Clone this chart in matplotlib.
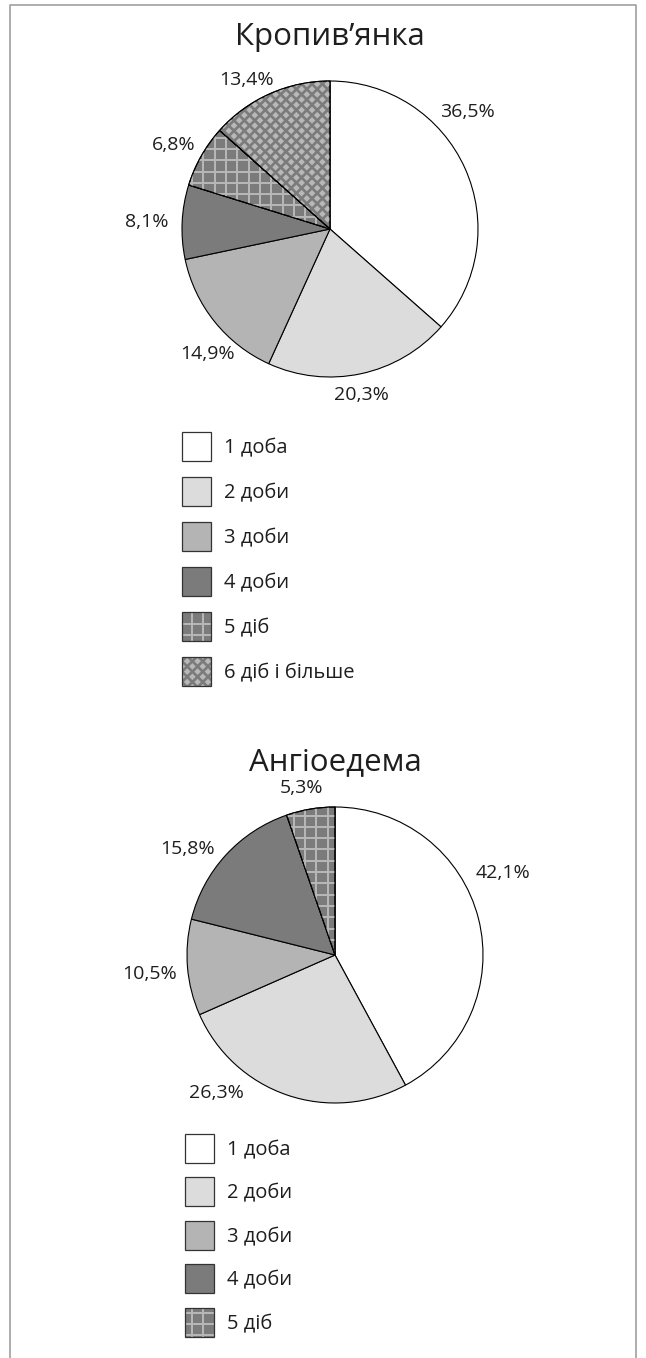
import numpy as np
import matplotlib
matplotlib.use('Agg')
import matplotlib.pyplot as plt
from matplotlib.patches import Rectangle, Wedge
from matplotlib.collections import LineCollection, PolyCollection

plt.rcParams['font.family'] = ['Open Sans', 'DejaVu Sans']

# дані
categories = ['1 доба', '2 доби', '3 доби', '4 доби', '5 діб', '6 діб і більше']
urticaria = [36.5, 20.3, 14.9, 8.1, 6.8, 13.4]
angioedema = [42.1, 26.3, 10.5, 15.8, 5.3]
titles = ['Кропив’янка', 'Ангіоедема']

# оформлення
fills = ['white', '#dcdcdc', '#b4b4b4', '#7b7b7b', '#7b7b7b', '#7b7b7b']
patterns = [None, None, None, None, 'grid', 'diamond']
light = '#b8b8b8'
txt = '#1e1e1e'

W, H = 646, 1358
R = 148

# позиції підписів (центр тексту, в одиницях радіуса від центру діаграми)
lbl_pos1 = [(0.926, 0.804), (0.214, -1.105), (-0.828, -0.834),
            (-1.236, 0.064), (-1.054, 0.584), (-0.561, 1.018)]
lbl_pos2 = [(1.133, 0.568), (-0.801, -0.916), (-1.254, -0.115),
            (-1.0, 0.730), (-0.226, 1.142)]


def py(y):
    return H - y


def add_pattern(ax, clip, kind, x0, x1, y0, y1):
    if kind == 'grid':
        s = 11.3
        segs = []
        for x in np.arange(np.floor(x0 / s) * s, x1 + s, s):
            segs.append([(x, y0), (x, y1)])
        for y in np.arange(np.floor(y0 / s) * s, y1 + s, s):
            segs.append([(x0, y), (x1, y)])
        lc = LineCollection(segs, colors=light, linewidths=1.4, zorder=2)
        ax.add_collection(lc)
        lc.set_clip_path(clip)
    elif kind == 'diamond':
        h = 5.2
        d = 3.3
        polys = []
        for i in range(int(np.floor(x0 / h)) - 1, int(np.ceil(x1 / h)) + 2):
            for j in range(int(np.floor(y0 / h)) - 1, int(np.ceil(y1 / h)) + 2):
                if (i + j) % 2:
                    continue
                cx, cy = i * h, j * h
                polys.append([(cx - d, cy), (cx, cy + d), (cx + d, cy), (cx, cy - d)])
        pc = PolyCollection(polys, facecolors=light, edgecolors='none', zorder=2)
        ax.add_collection(pc)
        pc.set_clip_path(clip)


def draw_pie(ax, values, cx, cy, lbl_pos, title, title_base):
    n = len(values)
    wedges, _ = ax.pie(values, colors=fills[:n], startangle=90, counterclock=False,
                       center=(cx, py(cy)), radius=R,
                       wedgeprops=dict(edgecolor='black', linewidth=0.8))
    for w, kind in zip(wedges, patterns[:n]):
        if kind:
            add_pattern(ax, w, kind, cx - R, cx + R, py(cy) - R, py(cy) + R)
            ax.add_patch(Wedge(w.center, w.r, w.theta1, w.theta2, fill=False,
                               edgecolor='black', linewidth=0.8, zorder=3))
    # baseline = центр цифр + половина їх висоти (~7 px)
    for v, (dx, dy) in zip(values, lbl_pos):
        ax.text(cx + dx * R, py(cy) + dy * R - 7, f'{v:.1f}%'.replace('.', ','),
                ha='center', va='baseline', fontsize=14, color=txt)
    ax.text(cx, py(title_base), title, ha='center', va='baseline', fontsize=22.5, color=txt)


def draw_legend(ax, n, lx, y_first, step, size=29):
    for i in range(n):
        cy = y_first + i * step
        rect = Rectangle((lx, py(cy) - size / 2), size, size, facecolor=fills[i],
                         edgecolor='none', zorder=1)
        ax.add_patch(rect)
        if patterns[i]:
            add_pattern(ax, rect, patterns[i], lx, lx + size, py(cy) - size / 2, py(cy) + size / 2)
        ax.add_patch(Rectangle((lx, py(cy) - size / 2), size, size, fill=False,
                               edgecolor='#333333', linewidth=0.9, zorder=3))
        ax.text(lx + size + 13, py(cy) - 7, categories[i], ha='left', va='baseline',
                fontsize=14.5, color=txt)


fig = plt.figure(figsize=(W / 100, H / 100), dpi=100)
ax = fig.add_axes([0, 0, 1, 1])

draw_pie(ax, urticaria, 330, 229, lbl_pos1, titles[0], 45)
draw_legend(ax, len(urticaria), 182, 446.5, 45)

draw_pie(ax, angioedema, 335, 955, lbl_pos2, titles[1], 770)
draw_legend(ax, len(angioedema), 185, 1148, 43.5)

# рамка
ax.plot([10, 10, 636, 636], [0, py(5), py(5), 0], color='#a0a0a0', linewidth=1.2)

ax.set_xlim(0, W)
ax.set_ylim(0, H)
ax.set_aspect('auto')
ax.axis('off')

fig.savefig('out.png', dpi=100)
